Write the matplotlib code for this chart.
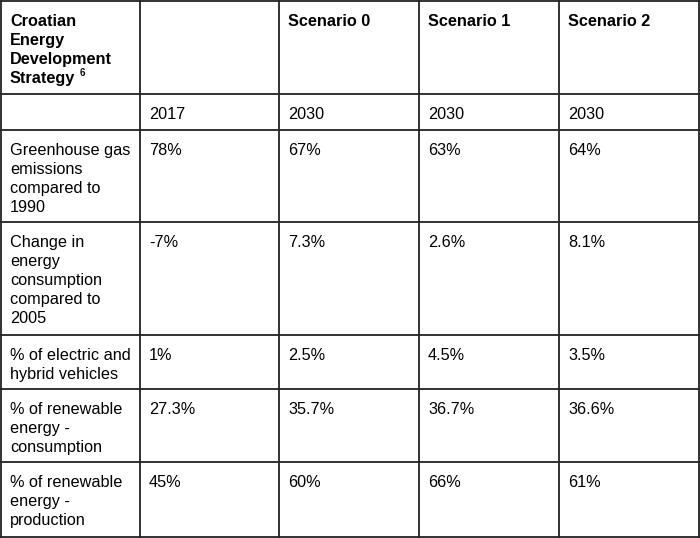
import matplotlib.pyplot as plt

plt.rcParams['font.family'] = ['Liberation Sans', 'DejaVu Sans']

# table content
header = ["Croatian\nEnergy\nDevelopment\nStrategy", "", "Scenario 0", "Scenario 1", "Scenario 2"]
footnote = "6"
years = ["", "2017", "2030", "2030", "2030"]
indicators = [
    "Greenhouse gas\nemissions\ncompared to\n1990",
    "Change in\nenergy\nconsumption\ncompared to\n2005",
    "% of electric and\nhybrid vehicles",
    "% of renewable\nenergy -\nconsumption",
    "% of renewable\nenergy -\nproduction",
]
val_2017 = ["78%", "-7%", "1%", "27.3%", "45%"]
scen0 = ["67%", "7.3%", "2.5%", "35.7%", "60%"]
scen1 = ["63%", "2.6%", "4.5%", "36.7%", "66%"]
scen2 = ["64%", "8.1%", "3.5%", "36.6%", "61%"]

# grid geometry (pixels)
col_x = [1, 140, 279, 419, 559, 699]
row_y = [1, 94, 130, 222, 335, 389, 462, 537]
line_h = 19

fig = plt.figure(figsize=(7, 5.38), dpi=100)
ax = fig.add_axes([0, 0, 1, 1])
ax.set_xlim(0, 700)
ax.set_ylim(538, 0)
ax.axis('off')

for x in col_x:
    ax.plot([x, x], [row_y[0], row_y[-1]], color='#222222', lw=1.3, solid_capstyle='projecting')
for y in row_y:
    ax.plot([col_x[0], col_x[-1]], [y, y], color='#222222', lw=1.3, solid_capstyle='projecting')

rows = [header, years]
for i in range(len(indicators)):
    rows.append([indicators[i], val_2017[i], scen0[i], scen1[i], scen2[i]])

last = None
for r, row in enumerate(rows):
    for c, txt in enumerate(row):
        if not txt:
            continue
        for k, line in enumerate(txt.split("\n")):
            t = ax.text(col_x[c] + 9, row_y[r] + 25 + k * line_h, line,
                        ha='left', va='baseline', fontsize=11.7, color='#000000',
                        fontweight='bold' if r == 0 else 'normal')
            if r == 0 and c == 0:
                last = t

# superscript footnote after "Strategy"
fig.canvas.draw()
bb = last.get_window_extent().transformed(ax.transData.inverted())
ax.text(bb.x1 + 4, row_y[0] + 25 + 3 * line_h - 7, footnote, ha='left', va='baseline',
        fontsize=7, color='#000000', fontweight='bold')

fig.savefig('out.png', dpi=100)
